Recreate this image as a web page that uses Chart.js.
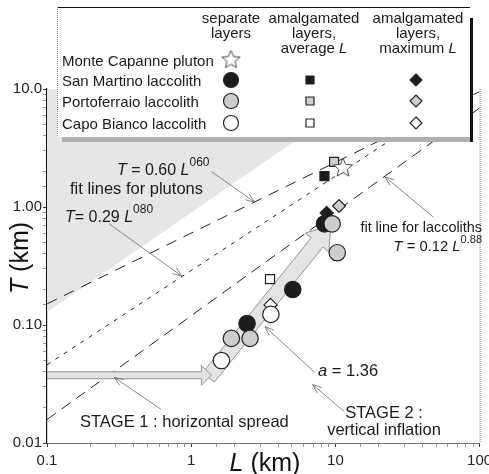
<!DOCTYPE html>
<html>
<head>
<meta charset="utf-8">
<script src="https://cdn.jsdelivr.net/npm/chart.js@4/dist/chart.umd.min.js"></script>
<style>
  html, body { margin: 0; padding: 0; background: #fff; }
  canvas { display: block; }
</style>
</head>
<body>
<canvas id="chart" width="489" height="474"></canvas>
<script>
// axis ticks
const xTicks = [0.1, 1, 10, 100];
const xTickText = ["0.1", "1", "10", "100"];
const yTicks = [0.01, 0.1, 1, 10];
const yTickText = ["0.01", "0.10", "1.00", "10.0"];

// fit lines, end points at L = 0.1 and L = 100
const fitL = [0.1, 100];
const plutonFit060 = [0.151, 9.51];
const plutonFit080 = [0.046, 11.5];
const laccolithFit = [0.0158, 6.9];

// shaded pluton field (upper left)
const shadeL = [0.1, 17.4, 100];
const shadeT = [0.128, 10, 10];

// separate layers
const sanMartinoL = [2.44, 5.06, 8.4];
const sanMartinoT = [0.103, 0.2, 0.72];
const portoferraioL = [1.9, 2.56, 9.5, 10.3];
const portoferraioT = [0.077, 0.077, 0.72, 0.41];
const capoBiancoL = [1.62, 3.57];
const capoBiancoT = [0.05, 0.123];
const monteCapanneL = [11.3];
const monteCapanneT = [2.14];

// amalgamated layers: San Martino, Portoferraio, Capo Bianco
const avgL = [8.4, 9.8, 3.52];
const avgT = [1.83, 2.41, 0.245];
const maxL = [8.7, 10.6, 3.55];
const maxT = [0.89, 1.02, 0.148];

// stage arrows (start, tip)
const stage1L = [0.1, 1.38];
const stage1T = [0.0375, 0.0375];
const stage2L = [1.32, 9.3];
const stage2T = [0.036, 0.7];

const ink = "#1c1c1c", grey = "#cdcdcd", paper = "#ffffff";
const FONT = '"Liberation Sans", Arial, sans-serif';

// pointer lines from labels: [fromL, fromT, toL, toT]
const pointers = [
  [1.38, 2.0, 2.75, 1.1],
  [0.27, 0.72, 0.86, 0.26],
  [47.9, 0.82, 22.1, 1.8],
  [7.18, 0.0397, 3.25, 0.097],
  [11.5, 0.0185, 6.95, 0.0313],
  [0.62, 0.0192, 0.293, 0.036]
];

function pts(L, T) { return L.map((v, i) => ({ x: v, y: T[i] })); }

function tickLabel(v, ticks, text) {
  const i = ticks.findIndex(t => Math.abs(Math.log10(v) - Math.log10(t)) < 1e-6);
  return i < 0 ? "" : text[i];
}
function isMajor(v) {
  const k = Math.log10(v);
  return Math.abs(k - Math.round(k)) < 1e-6;
}

function makeStar(r) {
  const c = document.createElement("canvas");
  const s = Math.ceil(r * 2 + 4);
  c.width = s; c.height = s;
  const g = c.getContext("2d");
  g.beginPath();
  for (let i = 0; i < 10; i++) {
    const a = -Math.PI / 2 + i * Math.PI / 5;
    const rr = i % 2 ? r * 0.45 : r;
    g.lineTo(s / 2 + rr * Math.cos(a), s / 2 + rr * Math.sin(a));
  }
  g.closePath();
  g.fillStyle = "#fff"; g.fill();
  g.strokeStyle = "#444"; g.lineWidth = 1; g.stroke();
  return c;
}
const starImg = makeStar(10);
const starSmall = makeStar(9.5);

function fontFor(p, size) {
  const st = p[1] || "";
  const s = st === "sup" ? Math.round(size * 0.75) : size;
  return (st === "i" ? "italic " : "") + s + "px " + FONT;
}
function richText(ctx, x, y, parts, size, align) {
  const widths = parts.map(p => { ctx.font = fontFor(p, size); return ctx.measureText(p[0]).width; });
  const total = widths.reduce((a, b) => a + b, 0);
  let cx = align === "right" ? x - total : align === "center" ? x - total / 2 : x;
  ctx.textAlign = "left"; ctx.textBaseline = "alphabetic";
  parts.forEach((p, i) => {
    ctx.font = fontFor(p, size);
    ctx.fillText(p[0], cx, p[1] === "sup" ? y - size * 0.55 : y);
    cx += widths[i];
  });
}

function blockArrow(ctx, a, b, body, headW, headLen) {
  const dx = b[0] - a[0], dy = b[1] - a[1], len = Math.hypot(dx, dy);
  const ux = dx / len, uy = dy / len, nx = -uy, ny = ux;
  const bx = b[0] - ux * headLen, by = b[1] - uy * headLen;
  ctx.beginPath();
  ctx.moveTo(a[0] + nx * body / 2, a[1] + ny * body / 2);
  ctx.lineTo(bx + nx * body / 2, by + ny * body / 2);
  ctx.lineTo(bx + nx * headW / 2, by + ny * headW / 2);
  ctx.lineTo(b[0], b[1]);
  ctx.lineTo(bx - nx * headW / 2, by - ny * headW / 2);
  ctx.lineTo(bx - nx * body / 2, by - ny * body / 2);
  ctx.lineTo(a[0] - nx * body / 2, a[1] - ny * body / 2);
  ctx.closePath();
  ctx.fill(); ctx.stroke();
}

function pointer(ctx, a, b) {
  const dx = b[0] - a[0], dy = b[1] - a[1], len = Math.hypot(dx, dy);
  const ux = dx / len, uy = dy / len;
  ctx.beginPath();
  ctx.moveTo(a[0], a[1]); ctx.lineTo(b[0], b[1]);
  const h = 9, w = 3.5;
  ctx.moveTo(b[0] - ux * h - uy * w, b[1] - uy * h + ux * w);
  ctx.lineTo(b[0], b[1]);
  ctx.lineTo(b[0] - ux * h + uy * w, b[1] - uy * h - ux * w);
  ctx.stroke();
}

function sym(ctx, kind, x, y, fill) {
  ctx.fillStyle = fill; ctx.strokeStyle = "#222"; ctx.lineWidth = 1.2;
  ctx.beginPath();
  if (kind === "circle") ctx.arc(x, y, 7.5, 0, Math.PI * 2);
  if (kind === "square") ctx.rect(x - 4, y - 4, 8, 8);
  if (kind === "diamond") { ctx.moveTo(x, y - 6); ctx.lineTo(x + 6, y); ctx.lineTo(x, y + 6); ctx.lineTo(x - 6, y); ctx.closePath(); }
  ctx.fill(); ctx.stroke();
}

const annotate = {
  id: "annotate",
  beforeDatasetDraw(chart, args) {
    if (!chart.data.datasets[args.index].arrowsBelow) return;
    const { ctx, chartArea, scales } = chart;
    const P = (L, T) => [scales.x.getPixelForValue(L), scales.y.getPixelForValue(T)];
    ctx.save();
    ctx.beginPath();
    ctx.rect(chartArea.left, chartArea.top, chartArea.right - chartArea.left, chartArea.bottom - chartArea.top);
    ctx.clip();
    ctx.fillStyle = "#e4e4e4"; ctx.strokeStyle = "#888"; ctx.lineWidth = 0.9;
    blockArrow(ctx, P(stage2L[0], stage2T[0]), P(stage2L[1], stage2T[1]), 15, 30, 22);
    blockArrow(ctx, P(stage1L[0], stage1T[0]), P(stage1L[1], stage1T[1]), 7, 20, 10);
    ctx.restore();
  },
  afterDraw(chart) {
    const { ctx, chartArea, scales } = chart;
    const P = (L, T) => [scales.x.getPixelForValue(L), scales.y.getPixelForValue(T)];
    ctx.save();
    // right frame, dotted
    ctx.strokeStyle = "#777"; ctx.lineWidth = 1; ctx.setLineDash([1, 1]);
    ctx.beginPath();
    ctx.moveTo(chartArea.right + 0.5, chartArea.top); ctx.lineTo(chartArea.right + 0.5, chartArea.bottom);
    ctx.stroke();
    ctx.setLineDash([]);

    // pointers
    ctx.strokeStyle = "#6a6a6a"; ctx.lineWidth = 0.8;
    pointers.forEach(p => pointer(ctx, P(p[0], p[1]), P(p[2], p[3])));

    // annotation text
    ctx.fillStyle = "#1a1a1a";
    const s = 16.5;
    richText(ctx, 117, 175, [["T", "i"], [" = 0.60 "], ["L", "i"], ["060", "sup"]], 16);
    richText(ctx, 70, 194, [["fit lines for plutons"]], s);
    richText(ctx, 65, 222, [["T", "i"], ["= 0.29 "], ["L", "i"], ["080", "sup"]], 16);
    richText(ctx, 482, 232, [["fit line for laccoliths"]], 14.4, "right");
    richText(ctx, 482, 251, [["T", "i"], [" = 0.12 "], ["L", "i"], ["0.88", "sup"]], 14.8, "right");
    richText(ctx, 318, 376, [["a", "i"], [" = 1.36"]], s);
    richText(ctx, 80, 427, [["STAGE 1 : horizontal spread"]], s);
    richText(ctx, 384, 418, [["STAGE 2 :"]], s, "center");
    richText(ctx, 384, 435, [["vertical inflation"]], s, "center");

    // legend box
    ctx.fillStyle = "#b0b0b0"; ctx.fillRect(62, 137, 411, 5);
    ctx.fillStyle = "#fff"; ctx.fillRect(57, 7, 413, 130);
    ctx.fillStyle = "#111"; ctx.fillRect(470, 18, 3, 124);
    ctx.strokeStyle = "#111"; ctx.lineWidth = 1;
    ctx.beginPath(); ctx.moveTo(57, 7.5); ctx.lineTo(470, 7.5); ctx.stroke();
    ctx.strokeStyle = "#888"; ctx.setLineDash([1, 1]);
    ctx.beginPath(); ctx.moveTo(57.5, 7); ctx.lineTo(57.5, 137); ctx.stroke();
    ctx.setLineDash([]);

    ctx.fillStyle = "#1a1a1a";
    const ls = 15;
    richText(ctx, 231, 23, [["separate"]], ls, "center");
    richText(ctx, 231, 38, [["layers"]], ls, "center");
    richText(ctx, 314, 23, [["amalgamated"]], ls, "center");
    richText(ctx, 314, 38, [["layers,"]], ls, "center");
    richText(ctx, 314, 53, [["average "], ["L", "i"]], ls, "center");
    richText(ctx, 418, 23, [["amalgamated"]], ls, "center");
    richText(ctx, 418, 38, [["layers,"]], ls, "center");
    richText(ctx, 418, 53, [["maximum "], ["L", "i"]], ls, "center");
    const rows = ["Monte Capanne pluton", "San Martino laccolith", "Portoferraio laccolith", "Capo Bianco laccolith"];
    const rowY = [60, 80, 101, 123];
    rows.forEach((r, i) => { ctx.fillStyle = "#1a1a1a"; richText(ctx, 62, rowY[i] + 5.5, [[r]], ls); });
    ctx.drawImage(starSmall, 231 - starSmall.width / 2, rowY[0] - starSmall.height / 2);
    const fills = [ink, grey, paper];
    fills.forEach((f, i) => {
      sym(ctx, "circle", 231, rowY[i + 1], f);
      sym(ctx, "square", 310, rowY[i + 1], f);
      sym(ctx, "diamond", 416, rowY[i + 1], f);
    });

    // axis titles
    ctx.fillStyle = "#111";
    richText(ctx, 265, 471, [["L", "i"], [" (km)"]], 25, "center");
    ctx.translate(28, 258);
    ctx.rotate(-Math.PI / 2);
    richText(ctx, 0, 0, [["T", "i"], [" (km)"]], 25, "center");
    ctx.restore();
  }
};

const lineBase = { type: "line", pointRadius: 0, fill: false, borderWidth: 1, borderColor: "#222", order: 90 };
const ptBase = { pointBorderColor: "#222", pointBorderWidth: 1.2, showLine: false };

new Chart(document.getElementById("chart"), {
  type: "scatter",
  data: {
    datasets: [
      { type: "line", data: pts(shadeL, shadeT), fill: "end", backgroundColor: "#e6e6e6", borderWidth: 0, pointRadius: 0, order: 100 },
      { ...lineBase, data: pts(fitL, plutonFit060), borderDash: [11, 8] },
      { ...lineBase, data: pts(fitL, plutonFit080), borderDash: [4, 6] },
      { ...lineBase, data: pts(fitL, laccolithFit), borderDash: [11, 7] },
      { ...ptBase, data: pts(maxL, maxT), pointStyle: "rectRot", pointRadius: 6.5, pointBackgroundColor: [ink, grey, paper], order: 50, arrowsBelow: true },
      { ...ptBase, data: pts(avgL, avgT), pointStyle: "rect", pointRadius: 6.4, pointBackgroundColor: [ink, grey, paper], order: 40 },
      { ...ptBase, data: pts(monteCapanneL, monteCapanneT), pointStyle: starImg, order: 30 },
      { ...ptBase, data: pts(sanMartinoL, sanMartinoT), pointStyle: "circle", pointRadius: 8.2, pointBackgroundColor: ink, order: 20 },
      { ...ptBase, data: pts(capoBiancoL, capoBiancoT), pointStyle: "circle", pointRadius: 8.2, pointBackgroundColor: paper, order: 15 },
      { ...ptBase, data: pts(portoferraioL, portoferraioT), pointStyle: "circle", pointRadius: 8.2, pointBackgroundColor: grey, order: 10 }
    ]
  },
  options: {
    responsive: false,
    animation: false,
    events: [],
    layout: { padding: { top: 89, right: 3, left: 0, bottom: 0 } },
    plugins: { legend: { display: false }, tooltip: { enabled: false } },
    scales: {
      x: {
        type: "logarithmic", min: 0.1, max: 100,
        afterFit: s => { s.height = 31; s.paddingLeft = 0; s.paddingRight = 0; },
        border: { color: "#777", width: 1, dash: [2, 1] },
        grid: { drawOnChartArea: false, tickLength: 4, color: c => isMajor(c.tick.value) ? "#333" : "#999" },
        ticks: { autoSkip: false, maxRotation: 0, padding: 5, color: "#222", font: { family: FONT, size: 15 },
                 callback: v => tickLabel(v, xTicks, xTickText) }
      },
      y: {
        type: "logarithmic", min: 0.01, max: 10,
        afterFit: s => { s.width = 47; s.paddingTop = 0; s.paddingBottom = 0; },
        border: { color: "#111", width: 1.2 },
        grid: { drawOnChartArea: false, tickLength: 4, color: c => isMajor(c.tick.value) ? "#333" : "#999" },
        ticks: { autoSkip: false, padding: 1, color: "#222", font: { family: FONT, size: 15 },
                 callback: v => tickLabel(v, yTicks, yTickText) }
      }
    }
  },
  plugins: [annotate]
});
</script>
</body>
</html>
